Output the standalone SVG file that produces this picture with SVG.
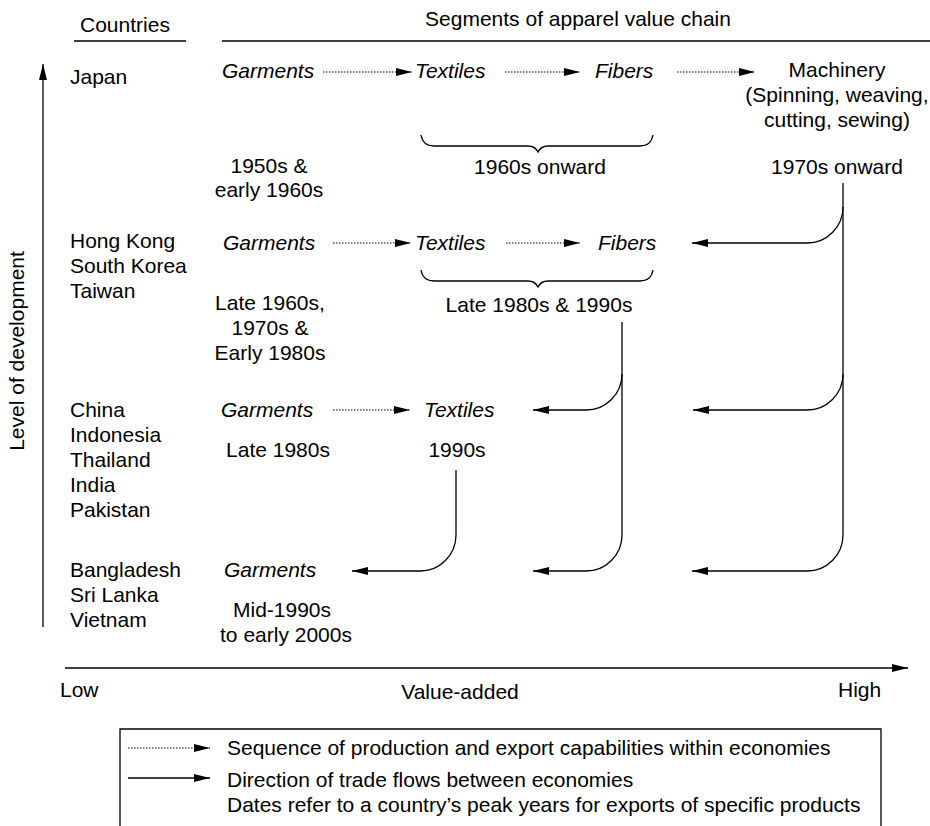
<svg xmlns="http://www.w3.org/2000/svg" width="930" height="826" viewBox="0 0 930 826">
<defs>
<marker id="ah" viewBox="0 0 16 8" refX="16" refY="4" markerWidth="16" markerHeight="8" orient="auto" markerUnits="userSpaceOnUse"><path d="M0,0 L16,4 L0,8 z" fill="#000"/></marker>
</defs>
<style>
text{font-family:"Liberation Sans",Arial,sans-serif;font-size:21px;fill:#000}
.it{font-style:italic}
.c{text-anchor:middle}
.ln{fill:none;stroke:#000;stroke-width:1.3}
.dot{fill:none;stroke:#000;stroke-width:1.2;stroke-dasharray:1.5 1.5}
.rule{fill:none;stroke:#000;stroke-width:1.5}
</style>
<rect width="930" height="826" fill="#fff"/>
<g id="header">
<text x="80" y="32">Countries</text>
<line class="rule" x1="74" y1="41" x2="186" y2="41"/>
<text x="578" y="26" class="c">Segments of apparel value chain</text>
<line class="rule" x1="222" y1="41" x2="930" y2="41"/>
</g>
<g id="axes">
<line class="ln" x1="43" y1="627" x2="43" y2="64" marker-end="url(#ah)"/>
<text transform="translate(24,351) rotate(-90)" class="c">Level of development</text>
<line class="ln" x1="65" y1="668" x2="908" y2="668" marker-end="url(#ah)"/>
<text x="60" y="697">Low</text>
<text x="460" y="699" class="c">Value-added</text>
<text x="838" y="697">High</text>
</g>
<g id="japan">
<text x="70" y="84">Japan</text>
<text x="222" y="78" class="it">Garments</text>
<text x="415" y="78" class="it">Textiles</text>
<text x="595" y="78" class="it">Fibers</text>
<text x="837" y="77" class="c">Machinery</text>
<text x="837" y="102" class="c">(Spinning, weaving,</text>
<text x="837" y="127" class="c">cutting, sewing)</text>
<path class="ln" d="M421,135 Q423,146 434,146 L528,146 Q535,146 538,152 Q541,146 548,146 L640,146 Q651,146 653,135"/>
<text x="540" y="174" class="c">1960s onward</text>
<text x="837" y="174" class="c">1970s onward</text>
<text x="269" y="173" class="c">1950s &amp;</text>
<text x="269" y="197" class="c">early 1960s</text>
</g>
<g id="hongkong">
<text x="70" y="248">Hong Kong</text>
<text x="70" y="273">South Korea</text>
<text x="70" y="298">Taiwan</text>
<text x="223" y="250" class="it">Garments</text>
<text x="415" y="250" class="it">Textiles</text>
<text x="598" y="250" class="it">Fibers</text>
<path class="ln" d="M421,270 Q423,281 434,281 L528,281 Q535,281 538,287 Q541,281 548,281 L640,281 Q651,281 653,270"/>
<text x="539" y="312" class="c">Late 1980s &amp; 1990s</text>
<text x="270" y="310" class="c">Late 1960s,</text>
<text x="270" y="335" class="c">1970s &amp;</text>
<text x="270" y="360" class="c">Early 1980s</text>
</g>
<g id="china">
<text x="70" y="417">China</text>
<text x="70" y="442">Indonesia</text>
<text x="70" y="467">Thailand</text>
<text x="70" y="492">India</text>
<text x="70" y="517">Pakistan</text>
<text x="221" y="417" class="it">Garments</text>
<text x="424" y="417" class="it">Textiles</text>
<text x="278" y="457" class="c">Late 1980s</text>
<text x="457" y="457" class="c">1990s</text>
</g>
<g id="bangladesh">
<text x="70" y="577">Bangladesh</text>
<text x="70" y="602">Sri Lanka</text>
<text x="70" y="627">Vietnam</text>
<text x="224" y="577" class="it">Garments</text>
<text x="282" y="617" class="c">Mid-1990s</text>
<text x="286" y="642" class="c">to early 2000s</text>
</g>
<g id="connectors">
<line class="dot" x1="323" y1="72" x2="412" y2="72" marker-end="url(#ah)"/>
<line class="dot" x1="505" y1="72" x2="580" y2="72" marker-end="url(#ah)"/>
<line class="dot" x1="677" y1="72" x2="755" y2="72" marker-end="url(#ah)"/>
<line class="dot" x1="333" y1="243" x2="411" y2="243" marker-end="url(#ah)"/>
<line class="dot" x1="506" y1="243" x2="580" y2="243" marker-end="url(#ah)"/>
<line class="dot" x1="333" y1="410" x2="410" y2="410" marker-end="url(#ah)"/>
<path class="ln" d="M843,183 V535 A36,36 0 0 1 807,571 H692" marker-end="url(#ah)"/>
<path class="ln" d="M843,207 A36,36 0 0 1 807,243 H692" marker-end="url(#ah)"/>
<path class="ln" d="M843,374 A36,36 0 0 1 807,410 H693" marker-end="url(#ah)"/>
<path class="ln" d="M622,322 V535 A36,36 0 0 1 586,571 H533" marker-end="url(#ah)"/>
<path class="ln" d="M622,374 A36,36 0 0 1 586,410 H533" marker-end="url(#ah)"/>
<path class="ln" d="M456,470 V535 A36,36 0 0 1 420,571 H352" marker-end="url(#ah)"/>
</g>
<g id="legend">
<path class="ln" d="M120,830 V729 H881 V830"/>
<line class="dot" x1="128" y1="748" x2="210" y2="748" marker-end="url(#ah)"/>
<line class="ln" x1="128" y1="778" x2="210" y2="778" marker-end="url(#ah)"/>
<text x="227" y="755">Sequence of production and export capabilities within economies</text>
<text x="227" y="787">Direction of trade flows between economies</text>
<text x="227" y="812">Dates refer to a country’s peak years for exports of specific products</text>
</g>
</svg>
